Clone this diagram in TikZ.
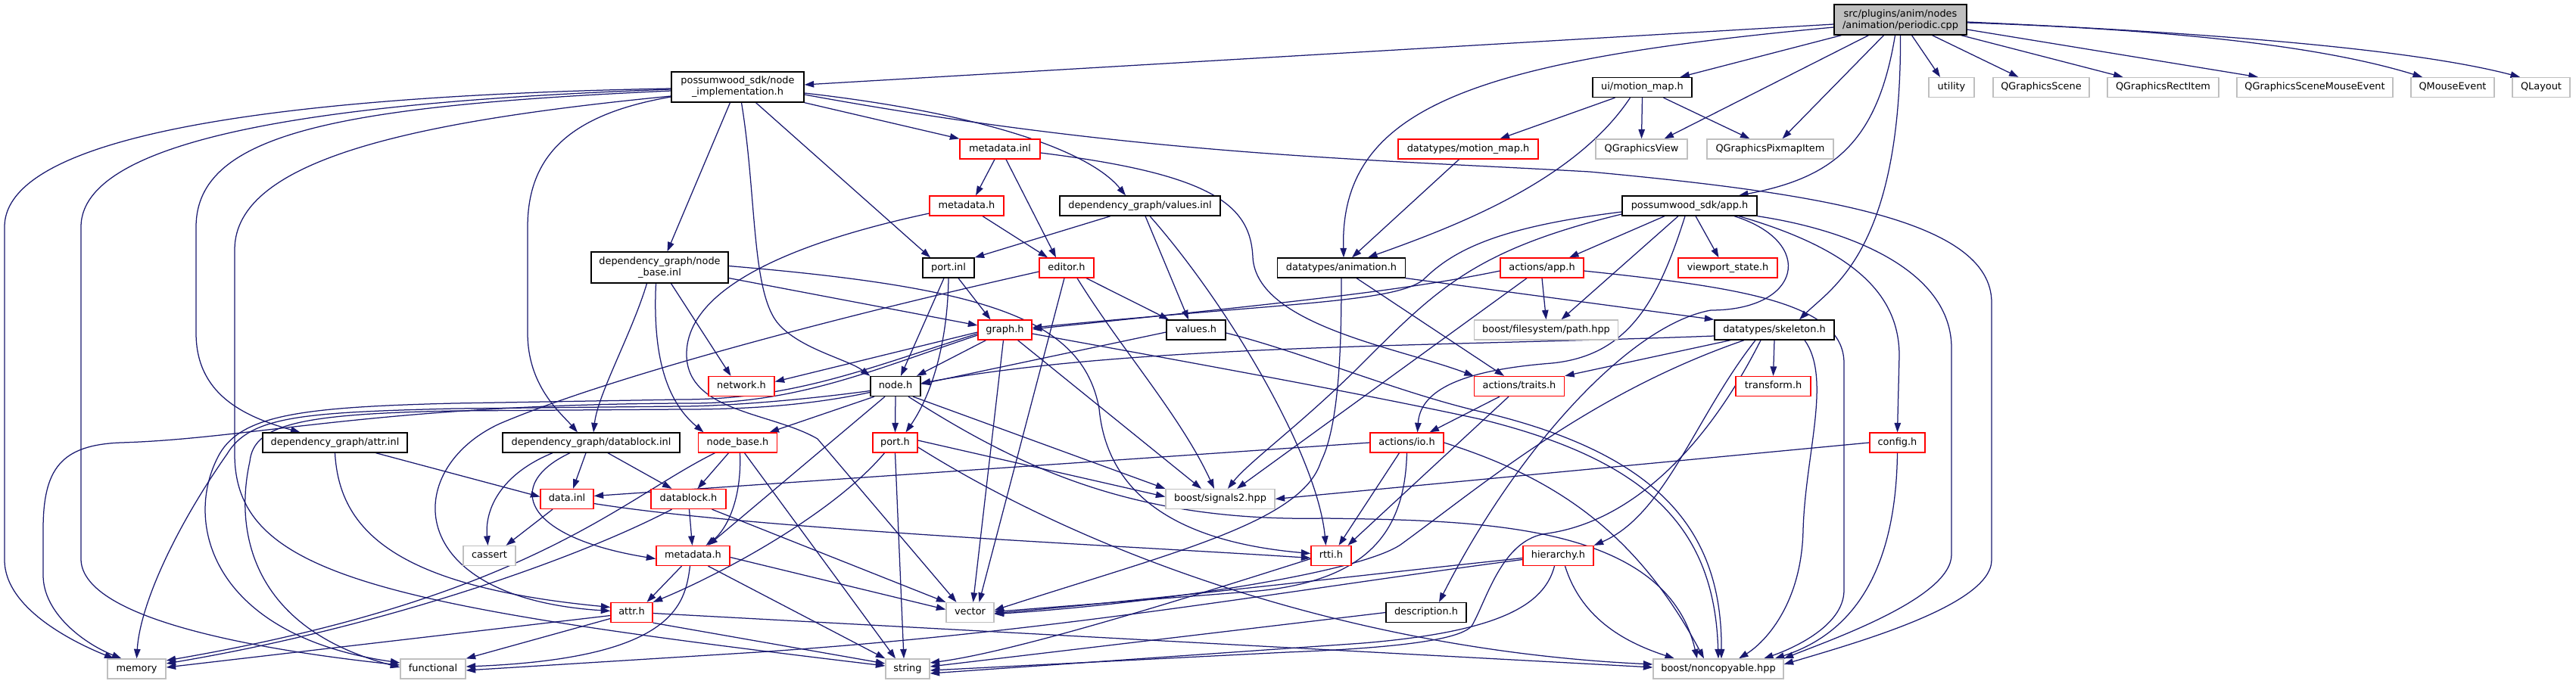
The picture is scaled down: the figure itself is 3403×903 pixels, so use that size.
\documentclass[tikz,border=0pt]{standalone}
\usepackage{fontspec}
\setmainfont{DejaVu Sans}
\usetikzlibrary{arrows.meta,backgrounds}
\definecolor{edgec}{RGB}{25,25,112}
\definecolor{extgray}{RGB}{191,191,191}
\definecolor{rootfill}{RGB}{191,191,191}
\tikzset{
  box/.style={rectangle, minimum height=26pt, inner sep=0pt, fill=white, line width=1.3pt,
    font=\fontsize{12.9pt}{15pt}\selectfont},
  one/.style={text height=9.4pt, text depth=2.6pt},
  docbox/.style={box, draw=black},
  redbox/.style={box, draw=red},
  extbox/.style={box, draw=extgray},
  edg/.style={draw=edgec, line width=1.25pt, -{Triangle[length=12.5pt,width=8.5pt]}},
}
\begin{document}
\begin{tikzpicture}[x=1pt,y=-1pt]
\useasboundingbox (0,0) rectangle (3403,903);
% ---------------- nodes
\node[docbox, fill=rootfill, minimum width=175pt, minimum height=40pt, align=center] (root) at (2510.5,26) {src/plugins/anim/nodes\\/animation/periodic.cpp};
\node[docbox, minimum width=175pt, minimum height=40pt, align=center] (nimpl) at (974.5,115) {possumwood\_sdk/node\\\_implementation.h};
\node[docbox, one, minimum width=131pt] (uimm) at (2169.5,115.5) {ui/motion\_map.h};
\node[extbox, one, minimum width=60pt] (utility) at (2578,115.5) {utility};
\node[extbox, one, minimum width=127pt] (qscene) at (2696.5,115.5) {QGraphicsScene};
\node[extbox, one, minimum width=147pt] (qrect) at (2857.5,115.5) {QGraphicsRectItem};
\node[extbox, one, minimum width=206pt] (qsme) at (3058,115.5) {QGraphicsSceneMouseEvent};
\node[extbox, one, minimum width=110pt] (qmouse) at (3240,115.5) {QMouseEvent};
\node[extbox, one, minimum width=76pt] (qlayout) at (3357,115.5) {QLayout};
\node[redbox, one, minimum width=106pt] (metainl) at (1321,197) {metadata.inl};
\node[redbox, one, minimum width=185pt] (dtmm) at (1939.5,197) {datatypes/motion\_map.h};
\node[extbox, one, minimum width=121pt] (qview) at (2168.5,197) {QGraphicsView};
\node[extbox, one, minimum width=167pt] (qpix) at (2338.5,197) {QGraphicsPixmapItem};
\node[redbox, one, minimum width=98pt] (metah1) at (1277,272) {metadata.h};
\node[docbox, one, minimum width=212pt] (valinl) at (1506,272) {dependency\_graph/values.inl};
\node[docbox, one, minimum width=178pt] (apph) at (2232,272) {possumwood\_sdk/app.h};
\node[docbox, minimum width=181pt, minimum height=41pt, align=center] (nbinl) at (871.5,353.5) {dependency\_graph/node\\\_base.inl};
\node[docbox, one, minimum width=68pt] (portinl) at (1253,354) {port.inl};
\node[redbox, one, minimum width=72pt] (editor) at (1409,354) {editor.h};
\node[docbox, one, minimum width=169pt] (anim) at (1772,354) {datatypes/animation.h};
\node[redbox, one, minimum width=110pt] (aapp) at (2037,354) {actions/app.h};
\node[redbox, one, minimum width=131pt] (vps) at (2282.5,354) {viewport\_state.h};
\node[redbox, one, minimum width=71pt] (graph) at (1327.5,436) {graph.h};
\node[docbox, one, minimum width=78pt] (valh) at (1580,436) {values.h};
\node[extbox, one, minimum width=190pt] (fspath) at (2042.5,436) {boost/filesystem/path.hpp};
\node[docbox, one, minimum width=158pt] (skel) at (2344,436) {datatypes/skeleton.h};
\node[redbox, one, minimum width=87pt] (network) at (979.5,510.5) {network.h};
\node[docbox, one, minimum width=66pt] (nodeh) at (1183,510.5) {node.h};
\node[redbox, one, minimum width=119pt] (traits) at (2007,510.5) {actions/traits.h};
\node[redbox, one, minimum width=99pt] (transform) at (2342.5,510.5) {transform.h};
\node[docbox, one, minimum width=191pt] (attrinl) at (442.5,585) {dependency\_graph/attr.inl};
\node[docbox, one, minimum width=234pt] (dbinl) at (781,585) {dependency\_graph/datablock.inl};
\node[redbox, one, minimum width=104pt] (nbh) at (974.5,585) {node\_base.h};
\node[redbox, one, minimum width=59pt] (porth) at (1182.5,585) {port.h};
\node[redbox, one, minimum width=97pt] (io) at (1858.5,585) {actions/io.h};
\node[redbox, one, minimum width=73pt] (config) at (2506.5,585) {config.h};
\node[redbox, one, minimum width=70pt] (datainl) at (749,659.5) {data.inl};
\node[redbox, one, minimum width=99pt] (dbh) at (909.5,659.5) {datablock.h};
\node[extbox, one, minimum width=144pt] (sig) at (1612,659.5) {boost/signals2.hpp};
\node[extbox, one, minimum width=69pt] (cassert) at (646.5,734.5) {cassert};
\node[redbox, one, minimum width=97pt] (metah2) at (915.5,734.5) {metadata.h};
\node[redbox, one, minimum width=53pt] (rtti) at (1758.5,734.5) {rtti.h};
\node[redbox, one, minimum width=93pt] (hier) at (2058.5,734.5) {hierarchy.h};
\node[redbox, one, minimum width=55pt] (attrh) at (834.5,809.5) {attr.h};
\node[extbox, one, minimum width=63pt] (vector) at (1281.5,809.5) {vector};
\node[docbox, one, minimum width=106pt] (desc) at (1884,809.5) {description.h};
\node[extbox, one, minimum width=77pt] (memory) at (180.5,884) {memory};
\node[extbox, one, minimum width=86pt] (functional) at (572,884) {functional};
\node[extbox, one, minimum width=58pt] (string) at (1199,884) {string};
\node[extbox, one, minimum width=172pt] (noncopy) at (2270,884) {boost/noncopyable.hpp};
% ---------------- edges
\begin{scope}[on background layer]
\fill[white] (0,0) rectangle (3403,903);
% root
\draw[edg] ([yshift=-6pt]root.west) -- ([yshift=3pt]nimpl.east);
\draw[edg] ([yshift=-10pt]root.west) .. controls (1950,80) and (1770,140) .. ([xshift=3pt]anim.north);
\draw[edg] ([xshift=-78pt]root.south) -- ([xshift=50pt]uimm.north);
\draw[edg] ([xshift=-42pt]root.south) -- ([xshift=30pt]qview.north);
\draw[edg] ([xshift=-22pt]root.south) -- ([xshift=16pt]qpix.north);
\draw[edg] ([xshift=-7pt]root.south) .. controls (2480,190) and (2420,235) .. ([xshift=65pt]apph.north);
\draw[edg] (root.south) .. controls (2512,330) and (2420,380) .. ([xshift=33pt]skel.north);
\draw[edg] ([xshift=15pt]root.south) -- ([xshift=-15pt]utility.north);
\draw[edg] ([xshift=42pt]root.south) -- ([xshift=-30pt]qscene.north);
\draw[edg] ([xshift=-8pt]root.south east) -- ([xshift=-53pt]qrect.north);
\draw[edg] ([yshift=-13pt]root.east) -- ([xshift=-75pt]qsme.north);
\draw[edg] ([yshift=-4pt]root.east) .. controls (2900,40) and (3080,65) .. ([xshift=-40pt]qmouse.north);
\draw[edg] ([yshift=-3pt]root.east) .. controls (2960,45) and (3200,68) .. ([xshift=-28pt]qlayout.north);
% ui/motion_map.h
\draw[edg] ([xshift=-36pt]uimm.south) -- ([xshift=42pt]dtmm.north);
\draw[edg] ([xshift=-16pt]uimm.south) .. controls (2080,240) and (1920,300) .. ([xshift=35pt]anim.north);
\draw[edg] (uimm.south) -- (qview.north);
\draw[edg] ([xshift=28pt]uimm.south) -- ([xshift=-27pt]qpix.north);
\draw[edg] ([xshift=-12pt]dtmm.south) -- ([xshift=14pt]anim.north);
% node_implementation.h
\draw[edg] ([yshift=-2pt]nimpl.west) .. controls (450,125) and (6,165) .. (6,300) -- (6,740) .. controls (6,805) and (100,850) .. ([xshift=-30pt]memory.north);
\draw[edg] ([yshift=-3pt]nimpl.west) .. controls (500,132) and (107,170) .. (107,300) -- (107,740) .. controls (110,820) and (350,860) .. ([yshift=5pt]functional.west);
\draw[edg] ([yshift=-5pt]nimpl.west) .. controls (450,140) and (259,175) .. (259,300) -- (259,440) .. controls (259,520) and (320,550) .. ([xshift=-46pt]attrinl.north);
\draw[edg] ([yshift=-12pt]nimpl.west) .. controls (550,160) and (310,210) .. (310,330) -- (310,600) .. controls (310,760) and (500,800) .. ([yshift=4pt]string.west);
\draw[edg] ([yshift=-13pt]nimpl.west) .. controls (760,150) and (697,200) .. (697,300) -- (697,440) .. controls (697,510) and (740,545) .. ([xshift=-18pt]dbinl.north);
\draw[edg] ([xshift=-10pt]nimpl.south) -- ([xshift=10pt]nbinl.north);
\draw[edg] ([xshift=5pt]nimpl.south) .. controls (1000,260) and (992,390) .. (1030,430) .. controls (1060,462) and (1120,475) .. (nodeh.north west);
\draw[edg] ([xshift=24pt]nimpl.south) -- ([xshift=-24pt]portinl.north);
\draw[edg] (nimpl.south east) -- (metainl.north west);
\draw[edg] ([yshift=-8pt]nimpl.east) .. controls (1300,150) and (1440,200) .. ([xshift=-19pt]valinl.north);
\draw[edg] ([yshift=-10pt]nimpl.east) .. controls (1500,205) and (1800,210) .. (2100,227) .. controls (2400,255) and (2631,290) .. (2631,400) -- (2631,740) .. controls (2631,800) and (2450,850) .. ([yshift=6pt]noncopy.east);
% metadata.inl
\draw[edg] ([xshift=-7pt]metainl.south) -- ([xshift=12pt]metah1.north);
\draw[edg] ([xshift=8pt]metainl.south) -- ([xshift=-14pt]editor.north);
\draw[edg] ([yshift=-5pt]metainl.east) .. controls (1600,230) and (1652,270) .. (1655,340) .. controls (1660,430) and (1850,460) .. (traits.north west);
% metadata.h (sdk)
\draw[edg] ([xshift=21pt]metah1.south) -- ([xshift=-25pt]editor.north);
\draw[edg] ([yshift=-10pt]metah1.west) .. controls (1050,320) and (905,380) .. (907,470) .. controls (909,545) and (1020,545) .. (1080,580) -- ([xshift=-18pt]vector.north);
% values.inl
\draw[edg] ([xshift=-39pt]valinl.south) -- (portinl.north east);
\draw[edg] ([xshift=7pt]valinl.south) -- ([xshift=-10pt]valh.north);
\draw[edg] ([xshift=13pt]valinl.south) .. controls (1620,400) and (1740,600) .. ([xshift=-7pt]rtti.north);
% app.h
\draw[edg] ([yshift=-8pt]apph.west) .. controls (1980,300) and (1920,330) .. (1880,370) .. controls (1840,400) and (1700,400) .. ([yshift=3pt]graph.east);
\draw[edg] ([yshift=-11pt]apph.west) .. controls (1950,330) and (1900,380) .. (1800,480) .. controls (1720,560) and (1650,610) .. ([xshift=10pt]sig.north);
\draw[edg] ([xshift=-33pt]apph.south) -- ([xshift=36pt]aapp.north);
\draw[edg] ([xshift=-15pt]apph.south) -- ([xshift=20pt]fspath.north);
\draw[edg] ([xshift=-6pt]apph.south) .. controls (2190,400) and (2150,470) .. (2050,480) .. controls (1920,490) and (1876,520) .. ([xshift=14pt]io.north);
\draw[edg] ([xshift=8pt]apph.south) -- ([xshift=-12pt]vps.north);
\draw[edg] ([xshift=59pt]apph.south) .. controls (2400,320) and (2380,410) .. (2260,410) .. controls (2150,430) and (2000,600) .. ([xshift=17pt]desc.north);
\draw[edg] ([xshift=65pt]apph.south) .. controls (2450,330) and (2509,390) .. (2509,470) -- (config.north);
\draw[edg] (apph.south east) .. controls (2450,305) and (2578,360) .. (2578,460) -- (2578,733) .. controls (2578,790) and (2420,845) .. (noncopy.north east);
% actions/app.h
\draw[edg] ([yshift=-4pt]aapp.west) .. controls (1850,385) and (1700,400) .. ([yshift=1pt]graph.east);
\draw[edg] ([xshift=-20pt]aapp.south) -- ([xshift=22pt]sig.north);
\draw[edg] (aapp.south) -- (fspath.north);
\draw[edg] ([yshift=-4pt]aapp.east) .. controls (2300,380) and (2436,400) .. (2436,480) -- (2436,780) .. controls (2436,830) and (2360,860) .. ([xshift=60pt]noncopy.north);
% animation.h
\draw[edg] (anim.south) .. controls (1772,450) and (1770,560) .. (1745,610) .. controls (1720,690) and (1550,730) .. ([yshift=3pt]vector.east);
\draw[edg] ([xshift=20pt]anim.south) -- ([xshift=-20pt]traits.north);
\draw[edg] (anim.south east) -- (skel.north west);
% skeleton.h
\draw[edg] ([yshift=-8pt]skel.west) .. controls (1900,458) and (1500,455) .. ([yshift=4pt]nodeh.east);
\draw[edg] ([xshift=-58pt]skel.south) -- (traits.north east);
\draw[edg] ([xshift=-40pt]skel.south) .. controls (2100,520) and (1960,640) .. (1850,720) .. controls (1790,760) and (1500,800) .. ([yshift=-2pt]vector.east);
\draw[edg] ([xshift=-18pt]skel.south) .. controls (2250,600) and (2150,690) .. (2044,705) .. controls (1985,712) and (1965,790) .. (1945,826) .. controls (1930,850) and (1800,858) .. (1700,862) -- ([yshift=-2pt]string.east);
\draw[edg] ([xshift=-25pt]skel.south) .. controls (2240,550) and (2200,680) .. (hier.north east);
\draw[edg] (skel.south) -- (transform.north);
\draw[edg] ([xshift=40pt]skel.south) .. controls (2420,500) and (2385,600) .. (2382,700) .. controls (2380,800) and (2330,850) .. ([xshift=27pt]noncopy.north);
% traits
\draw[edg] ([xshift=-26pt]traits.south) -- ([xshift=30pt]io.north);
\draw[edg] ([xshift=-14pt]traits.south) -- ([xshift=22pt]rtti.north);
% io
\draw[edg] (io.west) -- ([yshift=4pt]datainl.east);
\draw[edg] ([xshift=-10pt]io.south) -- ([xshift=10pt]rtti.north);
\draw[edg] (io.south) .. controls (1856,700) and (1810,770) .. (1650,782) -- ([yshift=1pt]vector.east);
\draw[edg] (io.east) .. controls (2050,630) and (2160,700) .. ([xshift=-19pt]noncopy.north);
% config
\draw[edg] (config.west) -- (sig.east);
\draw[edg] (config.south) .. controls (2505,720) and (2470,830) .. ([xshift=-12pt]noncopy.north east);
% hierarchy
\draw[edg] ([yshift=-3pt]hier.west) .. controls (1800,760) and (1500,795) .. ([yshift=-1pt]vector.east);
\draw[edg] ([yshift=-5pt]hier.west) .. controls (1700,780) and (1400,835) .. (1000,862) -- ([yshift=-2pt]functional.east);
\draw[edg] ([xshift=-5pt]hier.south) .. controls (2040,800) and (1980,835) .. (1800,850) -- ([yshift=-6pt]string.east);
\draw[edg] ([xshift=9pt]hier.south) .. controls (2090,820) and (2150,850) .. ([xshift=-58pt]noncopy.north);
% description, rtti
\draw[edg] (desc.west) -- ([yshift=3pt]string.east);
\draw[edg] ([yshift=-4pt]rtti.west) .. controls (1600,780) and (1350,860) .. ([yshift=8pt]string.east);
% values.h
\draw[edg] ([yshift=-3pt]valh.west) -- ([yshift=3pt]nodeh.east);
\draw[edg] ([yshift=-4pt]valh.east) .. controls (1720,465) and (1850,520) .. (1960,545) .. controls (2190,600) and (2275,700) .. ([xshift=4pt]noncopy.north);
% graph.h
\draw[edg] ([yshift=-3pt]graph.west) -- ([yshift=6pt]network.east);
\draw[edg] ([yshift=-7pt]graph.west) .. controls (1150,490) and (1050,535) .. (900,533) .. controls (500,535) and (330,580) .. (160,585) .. controls (80,588) and (57,620) .. (57,700) -- (57,760) .. controls (57,810) and (110,850) .. ([xshift=-20pt]memory.north);
\draw[edg] ([yshift=-5pt]graph.west) .. controls (1150,485) and (1050,528) .. (900,528) -- (600,533) .. controls (400,538) and (320,548) .. (290,600) .. controls (240,690) and (280,840) .. ([yshift=8pt]functional.west);
\draw[edg] ([xshift=-25pt]graph.south) -- ([xshift=28pt]nodeh.north);
\draw[edg] ([xshift=-2pt]graph.south) -- ([xshift=4pt]vector.north);
\draw[edg] ([xshift=17pt]graph.south) -- ([xshift=-25pt]sig.north);
\draw[edg] ([yshift=-5pt]graph.east) .. controls (1550,475) and (1800,520) .. (1960,555) .. controls (2180,610) and (2265,700) .. (noncopy.north);
% node.h
\draw[edg] ([yshift=-6pt]nodeh.west) .. controls (1050,530) and (950,537) .. (900,537) -- (600,540) .. controls (400,545) and (330,550) .. (300,600) .. controls (230,700) and (185,800) .. (memory.north);
\draw[edg] ([yshift=-8pt]nodeh.west) .. controls (1050,540) and (950,541) .. (900,541) -- (600,543) .. controls (400,547) and (335,560) .. (330,610) .. controls (310,700) and (330,830) .. ([yshift=2pt]functional.west);
\draw[edg] ([xshift=-28pt]nodeh.south) -- ([xshift=42pt]nbh.north);
\draw[edg] ([xshift=-14pt]nodeh.south) -- ([xshift=20pt]metah2.north);
\draw[edg] (nodeh.south) -- (porth.north);
\draw[edg] ([xshift=17pt]nodeh.south) .. controls (1350,620) and (1500,690) .. (1750,685) .. controls (1950,688) and (2200,690) .. ([xshift=-28pt]noncopy.north);
\draw[edg] ([xshift=23pt]nodeh.south) -- (sig.north west);
% port.inl
\draw[edg] ([xshift=13pt]portinl.south) -- ([xshift=-19pt]graph.north);
\draw[edg] ([xshift=-6pt]portinl.south) -- ([xshift=7pt]nodeh.north);
\draw[edg] (portinl.south) .. controls (1252,450) and (1232,520) .. ([xshift=14pt]porth.north);
% editor.h
\draw[edg] ([yshift=-5pt]editor.west) .. controls (1100,420) and (800,500) .. (660,560) .. controls (530,620) and (530,790) .. ([yshift=2pt]attrh.west);
\draw[edg] ([xshift=-3pt]editor.south) -- ([xshift=12pt]vector.north);
\draw[edg] ([xshift=14pt]editor.south) .. controls (1480,460) and (1560,550) .. ([xshift=-8pt]sig.north);
\draw[edg] ([xshift=26pt]editor.south) -- ([xshift=-36pt]valh.north);
% node_base.inl
\draw[edg] ([xshift=-17pt]nbinl.south) .. controls (835,440) and (790,520) .. ([xshift=3pt]dbinl.north);
\draw[edg] ([xshift=-5pt]nbinl.south) .. controls (862,470) and (880,530) .. ([xshift=-45pt]nbh.north);
\draw[edg] ([xshift=15pt]nbinl.south) -- ([xshift=-14pt]network.north);
\draw[edg] ([yshift=2pt]nbinl.east) .. controls (1300,380) and (1430,420) .. (1452,540) .. controls (1465,680) and (1600,720) .. ([yshift=3pt]rtti.west);
\draw[edg] ([yshift=-14pt]nbinl.east) -- ([yshift=6pt]graph.west);
% node_base.h
\draw[edg] ([xshift=-30pt]nbh.south) .. controls (820,660) and (700,790) .. ([yshift=11pt]memory.east);
\draw[edg] ([xshift=-12pt]nbh.south) -- ([xshift=12pt]dbh.north);
\draw[edg] ([xshift=3pt]nbh.south) .. controls (980,660) and (960,700) .. ([xshift=17pt]metah2.north);
\draw[edg] ([xshift=9pt]nbh.south) -- ([xshift=-16pt]string.north);
% port.h
\draw[edg] ([xshift=-14pt]porth.south) .. controls (1100,680) and (950,760) .. (attrh.north east);
\draw[edg] (porth.south) -- ([xshift=-5pt]string.north);
\draw[edg] ([yshift=3pt]porth.east) -- ([yshift=3pt]sig.west);
\draw[edg] ([yshift=-6pt]porth.east) .. controls (1450,740) and (1800,860) .. ([yshift=6pt]noncopy.west);
% attr.h
\draw[edg] ([yshift=-4pt]attrh.west) -- ([yshift=2pt]memory.east);
\draw[edg] ([yshift=-8pt]attrh.west) -- (functional.north east);
\draw[edg] ([yshift=-1pt]attrh.east) -- ([yshift=2pt]noncopy.west);
\draw[edg] (attrh.south east) -- ([yshift=7pt]string.west);
% metadata.h (dependency_graph)
\draw[edg] ([xshift=-15pt]metah2.south) -- ([xshift=20pt]attrh.north);
\draw[edg] ([xshift=-4pt]metah2.south) .. controls (905,800) and (890,870) .. ([yshift=3pt]functional.east);
\draw[edg] ([xshift=20pt]metah2.south) -- (string.north west);
\draw[edg] ([yshift=-2pt]metah2.east) -- ([yshift=4pt]vector.west);
% datablock.h
\draw[edg] ([xshift=1pt]dbh.south) -- ([xshift=-1pt]metah2.north);
\draw[edg] ([xshift=-22pt]dbh.south) .. controls (760,740) and (500,830) .. ([yshift=7pt]memory.east);
\draw[edg] ([xshift=31pt]dbh.south) -- (vector.north west);
% datablock.inl
\draw[edg] ([xshift=-51pt]dbinl.south) .. controls (665,625) and (640,670) .. ([xshift=-2pt]cassert.north);
\draw[edg] ([xshift=-28pt]dbinl.south) .. controls (665,640) and (690,710) .. ([yshift=-4pt]metah2.west);
\draw[edg] ([xshift=-7pt]dbinl.south) -- ([xshift=8pt]datainl.north);
\draw[edg] ([xshift=22pt]dbinl.south) -- ([xshift=-22pt]dbh.north);
% attr.inl
\draw[edg] ([xshift=54pt]attrinl.south) -- ([yshift=3pt]datainl.west);
\draw[edg] (attrinl.south) .. controls (448,700) and (520,775) .. ([yshift=7pt]attrh.west);
% data.inl
\draw[edg] ([xshift=-19pt]datainl.south) -- ([xshift=22pt]cassert.north);
\draw[edg] ([yshift=-6pt]datainl.east) .. controls (1000,700) and (1500,722) .. ([yshift=-3pt]rtti.west);
\end{scope}
\end{tikzpicture}
\end{document}
